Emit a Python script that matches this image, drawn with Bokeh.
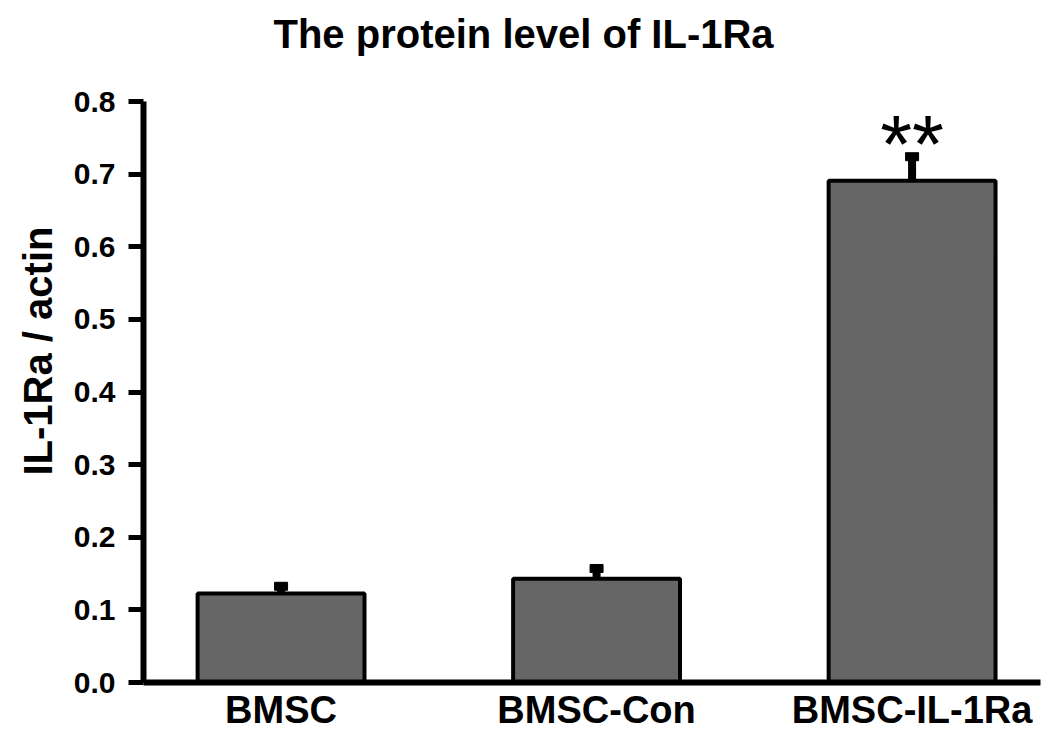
from bokeh.plotting import figure
from bokeh.models import FixedTicker, Range1d, Title
from bokeh.core.properties import value
from bokeh.embed import file_html
from bokeh.resources import INLINE

title_text = "The protein level of IL-1Ra"
y_label_text = "IL-1Ra / actin"
categories = ["BMSC", "BMSC-Con", "BMSC-IL-1Ra"]
means = [0.1225, 0.143, 0.691]
errors = [0.010, 0.014, 0.033]
significance = ["", "", "**"]
y_ticks = [0.0, 0.1, 0.2, 0.3, 0.4, 0.5, 0.6, 0.7, 0.8]
y_tick_labels = ["0.0", "0.1", "0.2", "0.3", "0.4", "0.5", "0.6", "0.7", "0.8"]

xs = [i + 1 for i in range(len(categories))]
tops = [m + e for m, e in zip(means, errors)]

FONT = "Liberation Sans"

p = figure(width=1047, height=735, output_backend="svg", toolbar_location=None,
           x_range=Range1d(0.564, 3.407), y_range=Range1d(0, 0.8),
           min_border_left=143, min_border_right=7, min_border_top=101, min_border_bottom=53)
p.outline_line_color = None
p.xgrid.visible = False
p.ygrid.visible = False
p.background_fill_color = "white"

# title: trailing blank line lifts the text away from the frame
p.title = Title(text=title_text + "\n", align="left", offset=130, standoff=0,
                vertical_align="top",
                text_font=FONT, text_font_size="40px", text_font_style="bold",
                text_color="black")

# y axis label as a left-side title, shifted up like the reference
p.add_layout(Title(text=y_label_text, align="left", offset=207, standoff=20,
                   vertical_align="middle",
                   text_font=FONT, text_font_size="40px", text_font_style="bold",
                   text_color="black"), "left")

p.vbar(x=xs, top=means, width=0.529, bottom=0, fill_color="#666666",
       line_color="black", line_width=4)
p.segment(x0=xs, y0=means, x1=xs, y1=tops, line_color="black", line_width=8)
p.rect(x=xs, y=tops, width=13, height=8, width_units="screen", height_units="screen",
       fill_color="black", line_color="black")

sig_x = [x for x, s in zip(xs, significance) if s]
sig_y = [t + 0.018 for t, s in zip(tops, significance) if s]
sig_t = [s for s in significance if s]
p.text(x=sig_x, y=sig_y, text=sig_t, text_align="center", text_baseline="alphabetic",
       text_font=value(FONT), text_font_size="82px", text_color="black")

# axes
p.yaxis.ticker = FixedTicker(ticks=y_ticks)
p.yaxis.major_label_overrides = {t: l for t, l in zip(y_ticks, y_tick_labels)}
p.yaxis.major_label_text_font = FONT
p.yaxis.major_label_text_font_size = "30px"
p.yaxis.major_label_text_font_style = "bold"
p.yaxis.major_label_text_color = "black"
p.yaxis.major_label_standoff = 13
p.yaxis.axis_line_width = 6
p.yaxis.major_tick_line_width = 5
p.yaxis.major_tick_out = 15
p.yaxis.major_tick_in = 0
p.yaxis.minor_tick_line_color = None

p.xaxis.ticker = FixedTicker(ticks=xs)
p.xaxis.major_label_overrides = {x: c for x, c in zip(xs, categories)}
p.xaxis.major_label_text_font = FONT
p.xaxis.major_label_text_font_size = "38px"
p.xaxis.major_label_text_font_style = "bold"
p.xaxis.major_label_text_color = "black"
p.xaxis.major_label_standoff = 0
p.xaxis.axis_line_width = 6
p.xaxis.major_tick_line_color = None
p.xaxis.minor_tick_line_color = None

open("out.html", "w").write(file_html(p, INLINE))
